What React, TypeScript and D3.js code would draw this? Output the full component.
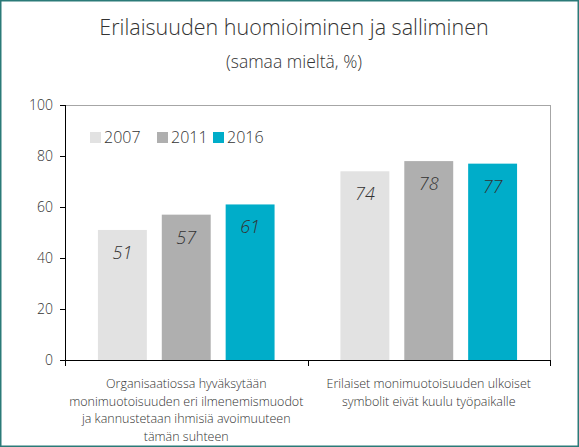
import React from "react";
import * as d3 from "d3";

const categories = [
  ["Organisaatiossa hyväksytään", "monimuotoisuuden eri ilmenemismuodot", "ja kannustetaan ihmisiä avoimuuteen", "tämän suhteen"],
  ["Erilaiset monimuotoisuuden ulkoiset", "symbolit eivät kuulu työpaikalle"],
];
const categoryKeys = ["c1", "c2"];
const seriesNames = ["2007", "2011", "2016"];
const values2007 = [51, 74];
const values2011 = [57, 78];
const values2016 = [61, 77];
const yTicks = [0, 20, 40, 60, 80, 100];
const colors = ["#e2e2e2", "#afafaf", "#00adc9"];

const W = 579, H = 447;
const left = 65, right = 550, top = 105, bottom = 360;
const FONT = "'Open Sans', 'Segoe UI', sans-serif";

export default function App() {
  const series = [values2007, values2011, values2016];
  const y = d3.scaleLinear().domain([0, 100]).range([bottom, top]);
  const x0 = d3.scaleBand<string>().domain(categoryKeys).range([left, right]).paddingInner(0.21).paddingOuter(0.105);
  const x1 = d3.scaleBand<string>().domain(seriesNames).range([0, x0.bandwidth()]).paddingInner(0.234).paddingOuter(0.117);
  const xTickPos = [left, (left + right) / 2, right];
  const legendX = [90, 157, 213];

  return (
    <svg width={W} height={H} style={{ position: "absolute", left: 0, top: 0, background: "#fff" }} fontFamily={FONT}>
      <rect x={0.75} y={0.75} width={W - 1.5} height={H - 1.5} fill="#fff" stroke="#2b7a78" strokeWidth={1.5} />
      <text x={294} y={35} textAnchor="middle" fontSize={21.5} fontWeight={300} fill="#333">Erilaisuuden huomioiminen ja salliminen</text>
      <text x={294} y={68} textAnchor="middle" fontSize={17.5} fontWeight={300} fill="#333">(samaa mieltä, %)</text>

      {/* plot frame */}
      <line x1={left} x2={right} y1={top + 0.5} y2={top + 0.5} stroke="#a6a6a6" strokeWidth={1} />
      <line x1={right + 0.5} x2={right + 0.5} y1={top} y2={bottom} stroke="#a6a6a6" strokeWidth={1} />

      {/* bars */}
      {categoryKeys.map((c, ci) => (
        <g key={c} transform={`translate(${x0(c)},0)`}>
          {seriesNames.map((s, si) => {
            const v = series[si][ci];
            const bx = x1(s)!;
            return (
              <g key={s}>
                <rect x={bx} y={y(v)} width={x1.bandwidth()} height={bottom - y(v)} fill={colors[si]} />
                <text x={bx + x1.bandwidth() / 2} y={y(v) + 29} textAnchor="middle" fontSize={18} fontStyle="italic" fontWeight={300} fill="#333">{v}</text>
              </g>
            );
          })}
        </g>
      ))}

      {/* y axis */}
      <line x1={left + 0.5} x2={left + 0.5} y1={top} y2={bottom} stroke="#000" />
      {yTicks.map((t) => (
        <g key={t}>
          <line x1={left - 5} x2={left} y1={Math.round(y(t)) + 0.5} y2={Math.round(y(t)) + 0.5} stroke="#000" />
          <text x={53} y={y(t) + 5} textAnchor="end" fontSize={14} fontWeight={300} fill="#333">{t}</text>
        </g>
      ))}

      {/* x axis */}
      <line x1={left} x2={right} y1={bottom + 0.5} y2={bottom + 0.5} stroke="#000" />
      {xTickPos.map((p, i) => (
        <line key={i} x1={Math.round(p) + 0.5} x2={Math.round(p) + 0.5} y1={bottom} y2={bottom + 6} stroke="#000" />
      ))}
      {categoryKeys.map((c, ci) => (
        <text key={c} textAnchor="middle" fontSize={12.5} fontWeight={300} fill="#333">
          {categories[ci].map((line, li) => (
            <tspan key={li} x={x0(c)! + x0.bandwidth() / 2} y={388 + li * 17.5}>{line}</tspan>
          ))}
        </text>
      ))}

      {/* legend */}
      {seriesNames.map((s, i) => (
        <g key={s}>
          <rect x={legendX[i]} y={132} width={11} height={11} fill={colors[i]} />
          <text x={legendX[i] + 14} y={143} fontSize={16} fontWeight={300} fill="#333">{s}</text>
        </g>
      ))}
    </svg>
  );
}
